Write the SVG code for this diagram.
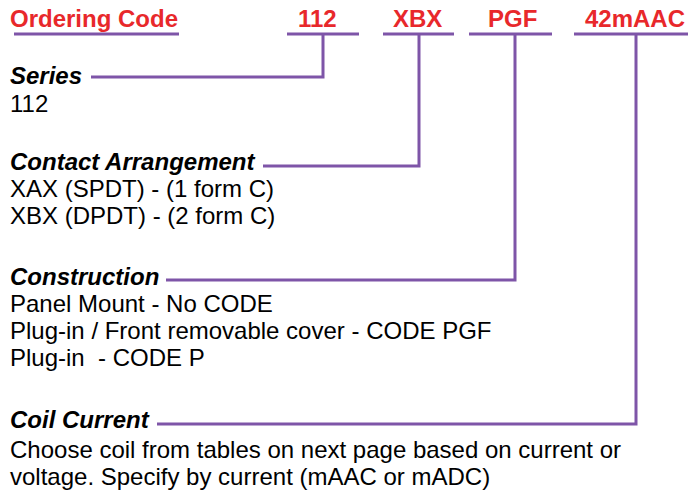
<svg xmlns="http://www.w3.org/2000/svg" width="688" height="492" viewBox="0 0 688 492">
<style>
.code{font-family:"Liberation Sans",Arial,sans-serif;font-size:24px;font-weight:bold;fill:#e8282b}
.head{font-family:"Liberation Sans",Arial,sans-serif;font-size:24px;font-weight:bold;font-style:italic;fill:#000}
.body{font-family:"Liberation Sans",Arial,sans-serif;font-size:24px;fill:#000}
.ln{stroke:#7e55a8;stroke-width:3;fill:none}
</style>
<rect width="688" height="492" fill="#fff"/>
<g id="header">
<text class="code" x="10" y="27">Ordering Code</text>
<line class="ln" x1="14" y1="34" x2="179" y2="34"/>
</g>
<g id="code-112">
<text class="code" x="298" y="27">112</text>
<line class="ln" x1="287" y1="34" x2="359" y2="34"/>
</g>
<g id="code-xbx">
<text class="code" x="393" y="27">XBX</text>
<line class="ln" x1="383" y1="34" x2="454" y2="34"/>
</g>
<g id="code-pgf">
<text class="code" x="488" y="27">PGF</text>
<line class="ln" x1="469" y1="34" x2="552" y2="34"/>
</g>
<g id="code-42maac">
<text class="code" x="585" y="27">42mAAC</text>
<line class="ln" x1="574" y1="34" x2="688" y2="34"/>
</g>
<g id="series">
<text class="head" x="10" y="84">Series</text>
<text class="body" x="10" y="112">112</text>
</g>
<g id="contact">
<text class="head" x="10" y="170">Contact Arrangement</text>
<text class="body" x="10" y="197">XAX (SPDT) - (1 form C)</text>
<text class="body" x="10" y="224">XBX (DPDT) - (2 form C)</text>
</g>
<g id="construction">
<text class="head" x="10" y="285">Construction</text>
<text class="body" x="10" y="312">Panel Mount - No CODE</text>
<text class="body" x="10" y="339">Plug-in / Front removable cover - CODE PGF</text>
<text class="body" x="10" y="366" xml:space="preserve">Plug-in  - CODE P</text>
</g>
<g id="coil">
<text class="head" x="10" y="428">Coil Current</text>
<text class="body" x="10" y="458">Choose coil from tables on next page based on current or</text>
<text class="body" x="10" y="485">voltage. Specify by current (mAAC or mADC)</text>
</g>
<g id="connectors">
<polyline class="ln" points="323,34 323,77 91,77"/>
<polyline class="ln" points="419,34 419,166 263,166"/>
<polyline class="ln" points="515,34 515,280 166,280"/>
<polyline class="ln" points="636,34 636,424 157,424"/>
</g>
</svg>
